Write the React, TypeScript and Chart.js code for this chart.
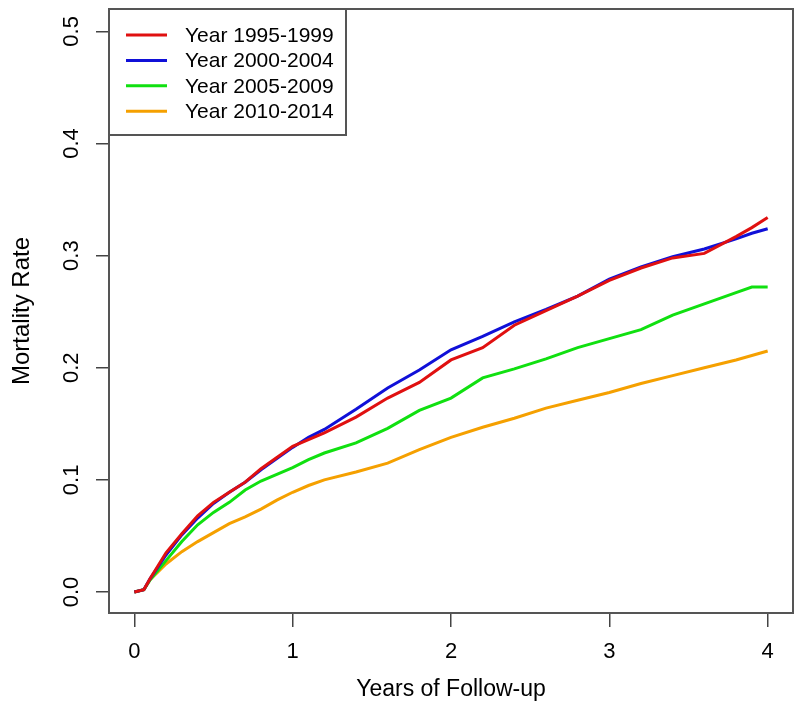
import React, { useEffect, useRef } from "react";
import { Chart, registerables } from "chart.js";

Chart.register(...registerables);

// Follow-up time (years)
const years = [0, 0.06, 0.1, 0.2, 0.3, 0.4, 0.5, 0.6, 0.7, 0.8, 0.9, 1.0, 1.1, 1.2, 1.4, 1.6, 1.8, 2.0, 2.2, 2.4, 2.6, 2.8, 3.0, 3.2, 3.4, 3.6, 3.8, 3.9, 4.0];

const rate1995 = [0, 0.002, 0.012, 0.035, 0.052, 0.068, 0.080, 0.089, 0.098, 0.110, 0.120, 0.130, 0.136, 0.142, 0.156, 0.173, 0.187, 0.207, 0.218, 0.238, 0.251, 0.264, 0.278, 0.289, 0.298, 0.302, 0.317, 0.325, 0.334];
const rate2000 = [0, 0.002, 0.012, 0.033, 0.051, 0.066, 0.079, 0.089, 0.098, 0.109, 0.119, 0.129, 0.138, 0.145, 0.163, 0.182, 0.198, 0.216, 0.228, 0.241, 0.252, 0.264, 0.279, 0.290, 0.299, 0.306, 0.315, 0.320, 0.324];
const rate2005 = [0, 0.002, 0.011, 0.028, 0.045, 0.060, 0.071, 0.080, 0.091, 0.099, 0.105, 0.111, 0.118, 0.124, 0.133, 0.146, 0.162, 0.173, 0.191, 0.199, 0.208, 0.218, 0.226, 0.234, 0.247, 0.257, 0.267, 0.272, 0.272];
const rate2010 = [0, 0.002, 0.011, 0.025, 0.036, 0.045, 0.053, 0.061, 0.067, 0.074, 0.082, 0.089, 0.095, 0.100, 0.107, 0.115, 0.127, 0.138, 0.147, 0.155, 0.164, 0.171, 0.178, 0.186, 0.193, 0.200, 0.207, 0.211, 0.215];

const seriesLabels = ["Year 1995-1999", "Year 2000-2004", "Year 2005-2009", "Year 2010-2014"];
const seriesColors = ["#e01010", "#1010d8", "#10e010", "#f5a000"];

const xTicks = [0, 1, 2, 3, 4];
const xTickLabels = ["0", "1", "2", "3", "4"];
const yTicks = [0, 0.1, 0.2, 0.3, 0.4, 0.5];
const yTickLabels = ["0.0", "0.1", "0.2", "0.3", "0.4", "0.5"];

const FONT = '"Liberation Sans", Arial, sans-serif';
const TEXT = "#000";

const decorPlugin = {
  id: "decor",
  afterDraw(chart: any) {
    const { ctx, chartArea: a } = chart;
    const ys = chart.scales.y;
    ctx.save();
    // frame
    ctx.strokeStyle = "#555";
    ctx.lineWidth = 2;
    ctx.strokeRect(a.left, a.top, a.right - a.left, a.bottom - a.top);

    // rotated y tick labels
    ctx.fillStyle = TEXT;
    ctx.font = `22px ${FONT}`;
    ctx.textAlign = "center";
    ctx.textBaseline = "middle";
    yTicks.forEach((v, i) => {
      const py = ys.getPixelForValue(v);
      ctx.save();
      ctx.translate(ys.right - 37, py);
      ctx.rotate(-Math.PI / 2);
      ctx.fillText(yTickLabels[i], 0, 0);
      ctx.restore();
    });

    // legend box (top-left)
    const lx = a.left;
    const ly = a.top;
    const lw = 237;
    const lh = 126;
    ctx.fillStyle = "#fff";
    ctx.fillRect(lx, ly, lw, lh);
    ctx.strokeStyle = "#555";
    ctx.lineWidth = 2;
    ctx.strokeRect(lx, ly, lw, lh);
    ctx.font = `21px ${FONT}`;
    ctx.textAlign = "left";
    ctx.textBaseline = "middle";
    chart.data.datasets.forEach((ds: any, i: number) => {
      const ry = ly + 26 + i * 25.4;
      ctx.strokeStyle = ds.borderColor;
      ctx.lineWidth = 3;
      ctx.beginPath();
      ctx.moveTo(lx + 17, ry);
      ctx.lineTo(lx + 58, ry);
      ctx.stroke();
      ctx.fillStyle = TEXT;
      ctx.fillText(ds.label, lx + 76, ry + 1);
    });
    ctx.restore();
  },
};

export default function App() {
  const canvasRef = useRef<HTMLCanvasElement | null>(null);

  useEffect(() => {
    const canvas = canvasRef.current;
    if (!canvas) return;
    const allRates = [rate1995, rate2000, rate2005, rate2010];
    const chart = new Chart(canvas, {
      type: "line",
      data: {
        datasets: allRates.map((r, i) => ({
          label: seriesLabels[i],
          data: years.map((t, j) => ({ x: t, y: r[j] })),
          borderColor: seriesColors[i],
          backgroundColor: seriesColors[i],
          borderWidth: 3,
          pointRadius: 0,
          tension: 0,
          fill: false,
        })),
      },
      options: {
        responsive: false,
        maintainAspectRatio: false,
        devicePixelRatio: 1,
        animation: false,
        layout: { padding: { top: 9, right: 7, left: 0, bottom: 0 } },
        plugins: {
          legend: { display: false },
          tooltip: { enabled: false },
        },
        scales: {
          x: {
            type: "linear",
            position: "bottom",
            min: -0.16,
            max: 4.16,
            afterBuildTicks: (scale: any) => {
              scale.ticks = xTicks.map((v) => ({ value: v }));
            },
            afterFit: (scale: any) => {
              scale.height = 102;
            },
            border: { display: false },
            grid: {
              display: true,
              drawOnChartArea: false,
              drawTicks: true,
              tickLength: 14,
              color: "#444",
              lineWidth: 1.5,
            },
            ticks: {
              color: TEXT,
              font: { family: FONT, size: 22 },
              padding: 12,
              maxRotation: 0,
              callback: (v: any) => {
                const idx = xTicks.indexOf(Number(v));
                return idx >= 0 ? xTickLabels[idx] : "";
              },
            },
            title: {
              display: true,
              text: "Years of Follow-up",
              color: TEXT,
              font: { family: FONT, size: 23 },
              padding: { top: 0, bottom: 12 },
            },
          },
          y: {
            type: "linear",
            position: "left",
            min: -0.0187,
            max: 0.52,
            afterBuildTicks: (scale: any) => {
              scale.ticks = yTicks.map((v) => ({ value: v }));
            },
            afterFit: (scale: any) => {
              scale.width = 109;
            },
            border: { display: false },
            grid: {
              display: true,
              drawOnChartArea: false,
              drawTicks: true,
              tickLength: 13,
              color: "#444",
              lineWidth: 1.5,
            },
            ticks: { display: false },
            title: {
              display: true,
              text: "Mortality Rate",
              color: TEXT,
              font: { family: FONT, size: 24 },
              padding: { top: 8, bottom: 0 },
            },
          },
        },
      },
      plugins: [decorPlugin],
    });
    return () => chart.destroy();
  }, []);

  return (
    <div style={{ position: "absolute", left: 0, top: 0, width: 800, height: 715, background: "#fff" }}>
      <canvas ref={canvasRef} width={800} height={715} style={{ display: "block" }} />
    </div>
  );
}
